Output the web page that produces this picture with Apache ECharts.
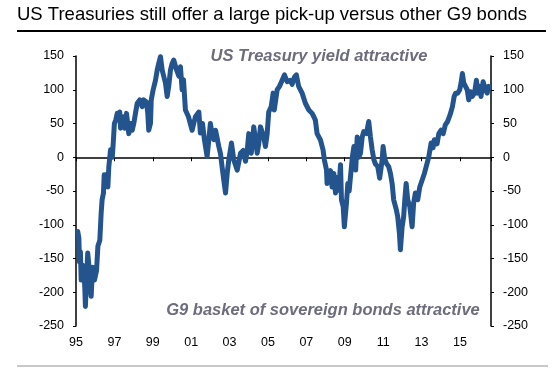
<!DOCTYPE html>
<html>
<head>
<meta charset="utf-8">
<script src="https://cdn.jsdelivr.net/npm/echarts@6/dist/echarts.min.js"></script>
<style>
html,body{margin:0;padding:0;background:#fff;}
#chart{width:552px;height:371px;}
</style>
</head>
<body>
<div id="chart"></div>
<script>
// Decimal years of the readings
const years = [
1995.09,1995.15,1995.18,1995.23,1995.27,1995.34,1995.41,1995.46,1995.49,1995.55,1995.61,1995.67,1995.72,1995.79,1995.86,1995.93,1995.96,
1996.07,1996.14,1996.24,1996.31,1996.36,1996.43,1996.47,1996.54,1996.62,1996.66,1996.71,1996.80,1996.89,1996.94,
1997.00,1997.07,1997.15,1997.22,1997.28,1997.32,1997.38,1997.46,1997.54,1997.63,1997.70,1997.75,1997.84,1997.93,
1998.01,1998.11,1998.19,1998.32,1998.45,1998.53,1998.67,1998.74,1998.79,1998.88,1998.92,
1999.02,1999.14,1999.23,1999.31,1999.40,1999.49,1999.57,1999.66,1999.75,1999.83,1999.92,
2000.01,2000.09,2000.23,2000.36,2000.44,2000.53,2000.60,2000.70,2000.86,
2001.05,2001.22,2001.40,2001.48,2001.59,2001.69,2001.83,2001.90,
2002.00,2002.11,2002.18,2002.27,2002.44,2002.53,2002.61,2002.70,2002.79,2002.88,2002.96,
2003.10,2003.22,2003.40,2003.57,2003.71,2003.83,2003.92,
2004.00,2004.13,2004.26,2004.35,2004.44,2004.52,2004.61,2004.78,2004.87,2004.96,
2005.04,2005.17,2005.27,2005.33,2005.48,2005.60,2005.74,2005.86,
2006.00,2006.17,2006.26,2006.38,2006.48,2006.60,2006.78,2006.95,
2007.13,2007.30,2007.39,2007.47,2007.56,2007.73,2007.87,2007.94,
2008.05,2008.08,2008.17,2008.26,2008.34,2008.43,2008.52,2008.60,2008.69,2008.78,2008.83,2008.92,2008.98,
2009.09,2009.16,2009.23,2009.30,2009.40,2009.48,2009.57,2009.65,2009.73,2009.82,2009.91,2009.99,
2010.13,2010.25,2010.34,2010.43,2010.52,2010.60,2010.72,2010.82,2010.95,
2011.00,2011.08,2011.17,2011.29,2011.38,2011.47,2011.55,2011.69,2011.76,2011.85,2011.90,2011.99,
2012.07,2012.13,2012.20,2012.28,2012.39,2012.51,2012.59,2012.68,2012.80,2012.91,
2013.03,2013.15,2013.29,2013.38,2013.50,2013.60,2013.67,2013.81,2013.90,
2014.02,2014.13,2014.24,2014.36,2014.49,2014.56,2014.61,2014.70,2014.78,2014.89,2014.99,
2015.06,2015.13,2015.20,2015.29,2015.38,2015.46,2015.55,2015.64,2015.76,2015.86,2015.93,
2016.03,2016.10,2016.21,2016.33,2016.42,2016.50
];
// Yield pick-up (bp) of US Treasuries vs G9 basket
const spread = [
-110,-120,-155,-140,-182,-160,-163,-195,-221,-180,-142,-160,-182,-206,-163,-175,-182,
-168,-132,-123,-83,-63,-53,-26,-30,-25,-44,-14,11,0,21,
50,55,65,55,67,43,55,60,43,65,48,35,50,40,
50,67,80,85,75,85,82,65,40,50,85,
100,114,129,139,149,129,120,110,90,105,129,
139,144,130,120,134,100,115,70,60,
40,60,67,36,50,26,1,20,
50,30,26,40,16,5,-14,-34,-53,-23,-4,
21,-4,-19,6,10,-6,10,
35,6,45,26,6,20,45,30,16,35,
67,75,95,70,100,105,114,122,
112,114,108,119,122,105,95,80,
70,65,60,55,35,26,11,-4,
-19,-39,-24,-20,-44,-24,-53,-30,-49,-11,-63,-73,-103,
-68,-39,-50,-29,1,16,-19,30,0,6,30,38,
35,53,30,11,-4,-10,-14,-31,-4,
16,-2,-9,-14,-24,-39,-63,-78,-88,-113,-137,-103,
-88,-63,-39,-63,-73,-103,-68,-53,-63,-44,
-34,-24,-9,1,21,14,26,20,35,
40,35,48,53,63,65,75,90,95,95,100,
110,124,110,105,100,85,97,90,95,114,95,
105,90,112,100,95,105
];
const startYear = 1995;
const yTicks = {min: -250, max: 150, step: 50};
const titleText = 'US Treasuries still offer a large pick-up versus other G9 bonds';
const noteTop = 'US Treasury yield attractive';
const noteBottom = 'G9 basket of sovereign bonds attractive';

const FONT = '"Liberation Sans", Arial, Helvetica, sans-serif';
const data = years.map((y, i) => [y - startYear, spread[i]]);

const chart = echarts.init(document.getElementById('chart'), null, {renderer: 'canvas'});
const yAxisBase = {
  type: 'value', min: yTicks.min, max: yTicks.max, interval: yTicks.step,
  splitLine: {show: false},
  axisLine: {show: true, onZero: false, lineStyle: {color: '#000', width: 1.5}},
  axisTick: {show: true, length: 3, lineStyle: {color: '#000', width: 1}},
  axisLabel: {color: '#000', fontSize: 12.5, fontFamily: FONT, margin: 12}
};
chart.setOption({
  animation: false,
  backgroundColor: '#fff',
  grid: {left: 76, right: 61, top: 56, bottom: 45, containLabel: false},
  xAxis: [
    {
      type: 'value', position: 'bottom', min: 0, max: 21.62, interval: 2,
      axisLine: {show: false, onZero: false},
      axisTick: {show: false},
      splitLine: {show: false},
      axisLabel: {
        color: '#000', fontSize: 12.5, fontFamily: FONT, margin: 10,
        showMaxLabel: false,
        formatter: v => String((95 + Math.round(v)) % 100).padStart(2, '0')
      }
    },
    {
      type: 'value', position: 'top', min: 0, max: 21.62, interval: 2,
      axisLine: {show: true, onZero: true, onZeroAxisIndex: 0, lineStyle: {color: '#000', width: 1.5}},
      axisTick: {show: true, inside: true, length: 4, lineStyle: {color: '#000', width: 1}},
      axisLabel: {show: false},
      splitLine: {show: false}
    }
  ],
  yAxis: [
    Object.assign({}, yAxisBase, {position: 'left'}),
    Object.assign({}, yAxisBase, {position: 'right'})
  ],
  series: [{
    type: 'line',
    data: data,
    xAxisIndex: 0,
    yAxisIndex: 0,
    showSymbol: false,
    symbol: 'none',
    lineStyle: {color: '#23548e', width: 5, join: 'round', cap: 'round'},
    z: 3
  }],
  graphic: [
    {type: 'text', left: 17, top: 5, style: {text: titleText, font: '18.5px ' + FONT, fill: '#000'}},
    {type: 'line', shape: {x1: 17, y1: 31, x2: 546, y2: 31}, style: {stroke: '#000', lineWidth: 2}},
    {type: 'line', shape: {x1: 17, y1: 366, x2: 548, y2: 366}, style: {stroke: '#c8c8c8', lineWidth: 2}},
    {type: 'text', x: 319, y: 56, style: {text: noteTop, font: 'italic bold 16.5px ' + FONT, fill: '#6c6c7c', align: 'center', verticalAlign: 'middle'}, z: 10},
    {type: 'text', x: 323, y: 310, style: {text: noteBottom, font: 'italic bold 16.5px ' + FONT, fill: '#6c6c7c', align: 'center', verticalAlign: 'middle'}, z: 10}
  ]
});
</script>
</body>
</html>
